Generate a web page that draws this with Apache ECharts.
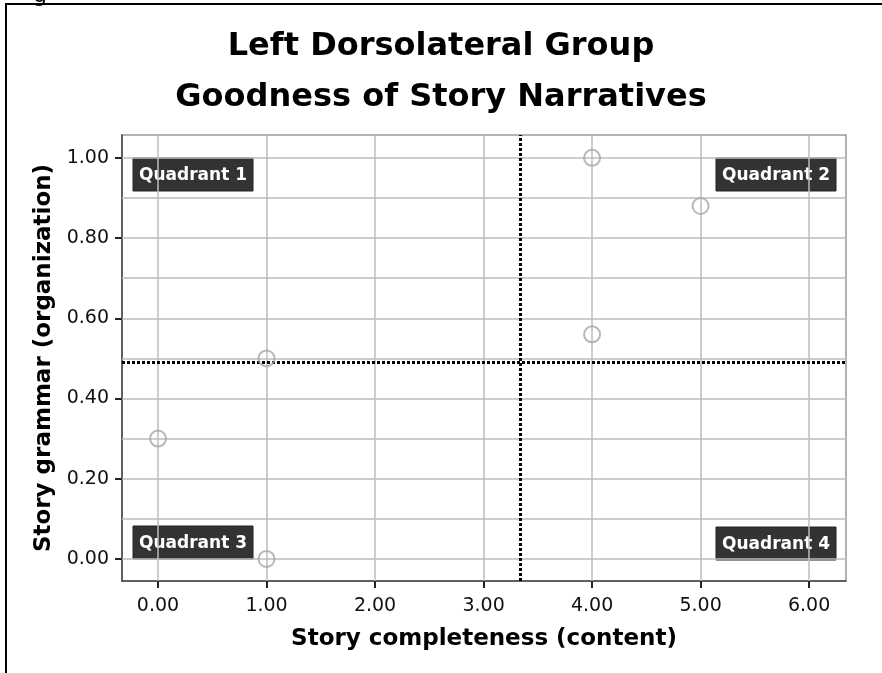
<!DOCTYPE html>
<html>
<head>
<meta charset="utf-8">
<script src="https://cdn.jsdelivr.net/npm/echarts@6/dist/echarts.min.js"></script>
<style>
  html, body { margin: 0; padding: 0; background: #fff; }
  #chart { width: 882px; height: 673px; }
</style>
</head>
<body>
<div id="chart"></div>
<script>
const completeness = [4, 5, 4, 1, 0, 1];
const grammar = [1.00, 0.88, 0.56, 0.50, 0.30, 0.00];
const xTicks = [0, 1, 2, 3, 4, 5, 6];
const yTicks = [0, 0.2, 0.4, 0.6, 0.8, 1.0];
const yGrid = [0, 0.1, 0.2, 0.3, 0.4, 0.5, 0.6, 0.7, 0.8, 0.9, 1.0];
const refX = 3.34;
const refY = 0.49;
const quadrants = ['Quadrant 1', 'Quadrant 2', 'Quadrant 3', 'Quadrant 4'];

const FONT = '"DejaVu Sans", Arial, sans-serif';
const chart = echarts.init(document.getElementById('chart'), null, { renderer: 'canvas' });

// quadrant label boxes, pixel positions (annotations)
const quadPos = [[133, 158], [716, 158], [133, 526], [716, 527]];
const quadGraphics = quadrants.map((q, i) => ({
  type: 'group',
  x: quadPos[i][0],
  y: quadPos[i][1],
  z: 100,
  children: [
    { type: 'rect', shape: { x: 0, y: 0, width: 120, height: 33 },
      style: { fill: '#333333', stroke: '#222', lineWidth: 1 } },
    { type: 'text', x: 60, y: 18,
      style: { text: q, fill: '#fff', font: 'bold 17px ' + FONT, align: 'center', verticalAlign: 'middle' } }
  ]
}));

const option = {
  animation: false,
  backgroundColor: '#fff',
  title: {
    text: 'Left Dorsolateral Group\nGoodness of Story Narratives',
    left: 'center',
    top: 16,
    textStyle: { fontFamily: FONT, fontSize: 32, fontWeight: 'bold', color: '#000', lineHeight: 51 }
  },
  graphic: [
    { type: 'rect', shape: { x: 6, y: 4, width: 1000, height: 1000 },
      style: { fill: 'none', stroke: '#000', lineWidth: 2 } },
    { type: 'text', x: 33, y: -15, style: { text: 'g', font: '22px ' + FONT, fill: '#000' } },
    ...quadGraphics
  ],
  grid: {
    left: 122, top: 135, width: 724, height: 446,
    show: true, borderColor: '#9a9a9a', borderWidth: 1.5, backgroundColor: '#fff'
  },
  xAxis: {
    type: 'value',
    min: -0.332, max: 6.34,
    name: 'Story completeness (content)',
    nameLocation: 'middle',
    nameGap: 47,
    nameTextStyle: { fontFamily: FONT, fontSize: 23, fontWeight: 'bold', color: '#000' },
    axisLine: { onZero: false, lineStyle: { color: '#444', width: 1.5 } },
    axisTick: { show: true, customValues: xTicks, length: 7, lineStyle: { color: '#222', width: 2 } },
    axisLabel: {
      customValues: xTicks, margin: 16,
      fontFamily: FONT, fontSize: 19, color: '#111',
      formatter: v => v.toFixed(2)
    },
    splitLine: { show: false }
  },
  yAxis: {
    type: 'value',
    min: -0.055, max: 1.057,
    name: 'Story grammar (organization)',
    nameLocation: 'middle',
    nameGap: 64,
    nameRotate: 90,
    nameTextStyle: { fontFamily: FONT, fontSize: 23, fontWeight: 'bold', color: '#000' },
    axisLine: { show: true, onZero: false, lineStyle: { color: '#444', width: 1.5 } },
    axisTick: { show: true, customValues: yTicks, length: 7, lineStyle: { color: '#222', width: 2 } },
    axisLabel: {
      customValues: yTicks, margin: 13,
      fontFamily: FONT, fontSize: 19, color: '#111',
      formatter: v => v.toFixed(2)
    },
    splitLine: { show: false }
  },
  series: [
    {
      name: 'grid',
      type: 'scatter',
      data: [],
      silent: true,
      z: 1,
      markLine: {
        silent: true,
        symbol: 'none',
        label: { show: false },
        lineStyle: { color: '#bdbdbd', width: 1.5, type: 'solid' },
        data: [
          ...xTicks.map(v => ({ xAxis: v })),
          ...yGrid.map(v => ({ yAxis: v }))
        ]
      }
    },
    {
      name: 'reference',
      type: 'scatter',
      data: [],
      silent: true,
      z: 3,
      markLine: {
        silent: true,
        symbol: 'none',
        label: { show: false },
        lineStyle: { color: '#000', width: 3, type: [3, 2] },
        data: [{ xAxis: refX }, { yAxis: refY }]
      }
    },
    {
      name: 'cases',
      type: 'scatter',
      z: 5,
      symbol: 'circle',
      symbolSize: 16,
      itemStyle: { color: 'rgba(255,255,255,0)', borderColor: '#a6a6a6', borderWidth: 2 },
      data: completeness.map((c, i) => [c, grammar[i]])
    }
  ]
};
chart.setOption(option);
</script>
</body>
</html>
